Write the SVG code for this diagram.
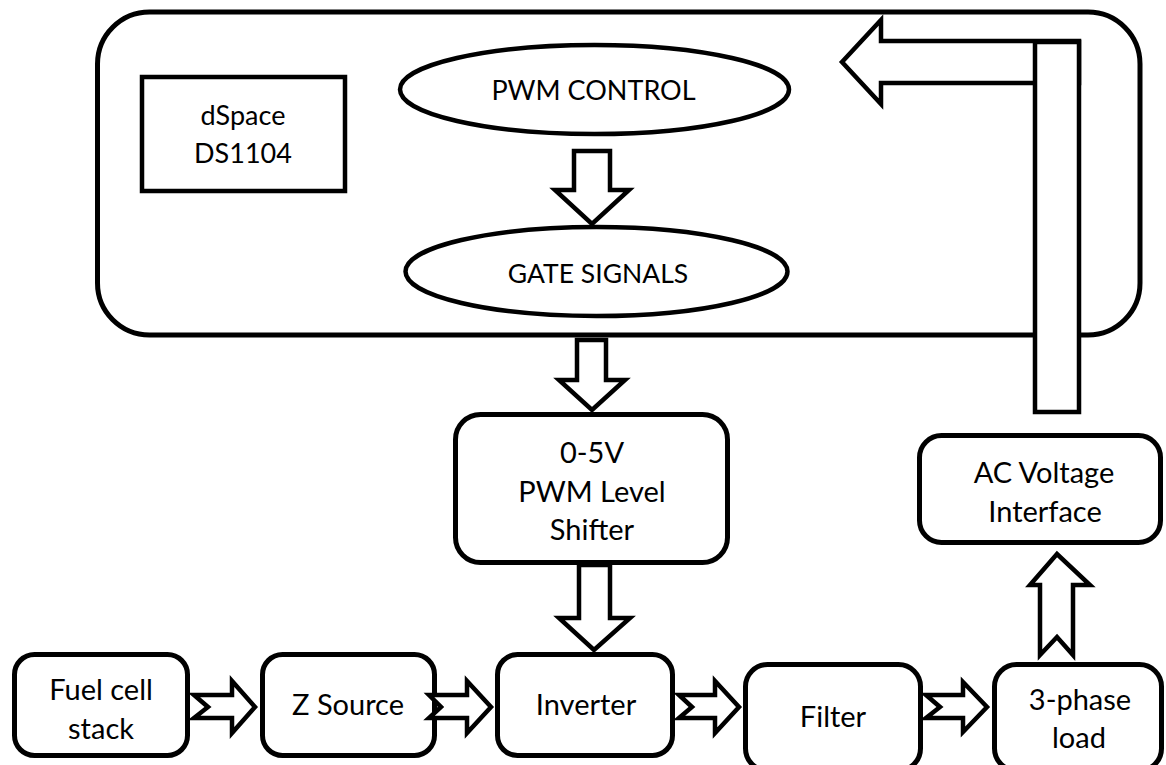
<svg xmlns="http://www.w3.org/2000/svg" width="1166" height="765" viewBox="0 0 1166 765">
<style>
.box{fill:#fff;stroke:#000;stroke-width:5}
.ell{fill:#fff;stroke:#000;stroke-width:4.5}
.arr{fill:#fff;stroke:#000;stroke-width:4.5;stroke-linejoin:miter}
text{font-family:Lato,"Liberation Sans",sans-serif;font-size:29px;fill:#000;text-anchor:middle}
.caps{font-size:27px}
</style>
<rect width="1166" height="765" fill="#fff"/>
<g id="dspace-frame">
<rect class="box" x="97.5" y="12" width="1042.5" height="323" rx="52" ry="52"/>
</g>
<g id="dspace">
<rect class="box" x="142" y="77" width="203" height="114" style="stroke-width:4.5"/>
<text x="243" y="125" class="caps">dSpace</text>
<text x="243" y="163" class="caps">DS1104</text>
</g>
<g id="pwm-control">
<ellipse class="ell" cx="594.5" cy="89.5" rx="194.5" ry="44.5"/>
<text x="593.5" y="100" class="caps">PWM CONTROL</text>
</g>
<g id="gate-signals">
<ellipse class="ell" cx="596.5" cy="271.5" rx="191" ry="44.5"/>
<text x="598" y="283" style="font-size:26.5px">GATE SIGNALS</text>
</g>
<g id="level-shifter">
<rect class="box" x="455.5" y="414.5" width="272" height="148" rx="25" ry="25"/>
<text x="592" y="463">0-5V</text>
<text x="592" y="502">PWM Level</text>
<text x="592" y="540">Shifter</text>
</g>
<g id="ac-interface">
<rect class="box" x="919.5" y="435.5" width="241" height="107" rx="22" ry="22"/>
<text x="1044" y="483">AC Voltage</text>
<text x="1045" y="522">Interface</text>
</g>
<g id="fuel-cell">
<rect class="box" x="14.5" y="654.5" width="173" height="101" rx="20" ry="20"/>
<text x="101" y="700">Fuel cell</text>
<text x="101" y="739">stack</text>
</g>
<g id="z-source">
<rect class="box" x="262.5" y="654.5" width="172" height="101" rx="20" ry="20"/>
<text x="348" y="715">Z Source</text>
</g>
<g id="inverter">
<rect class="box" x="497.5" y="654.5" width="175" height="101" rx="20" ry="20"/>
<text x="586" y="715">Inverter</text>
</g>
<g id="filter">
<rect class="box" x="745.5" y="664.5" width="175" height="106" rx="22" ry="22"/>
<text x="833" y="727">Filter</text>
</g>
<g id="three-phase-load">
<rect class="box" x="994.5" y="664.5" width="167" height="106" rx="22" ry="22"/>
<text x="1080" y="710">3-phase</text>
<text x="1079" y="748">load</text>
</g>
<g id="connectors">
<polygon class="arr" points="574,151 610,151 610,190 629,190 592,224 555,190 574,190"/>
<polygon class="arr" points="577,340 606,340 606,380 625,380 592,410 559,380 577,380"/>
<polygon class="arr" points="579,565 610,565 610,618 630,618 594,650 559,618 579,618"/>
<polygon class="arr" points="1040,655 1057,637 1073,655 1073,585 1090,585 1057,554 1030,585 1040,585"/>
<polygon class="arr" points="194,695 232,695 232,681 255,707 232,733 232,718 194,718 208,707"/>
<polygon class="arr" points="429,695 467,695 467,681 491,707 467,733 467,718 429,718 441,707"/>
<polygon class="arr" points="679,695 715,695 715,681 739,707 715,733 715,718 679,718 692,707"/>
<polygon class="arr" points="926,695 963,695 963,682 987,707 963,732 963,718 926,718 940,707"/>
<polygon class="arr" points="842,62 881,20 881,41 1079,41 1079,83 881,83 881,104"/>
<rect class="arr" x="1035" y="42" width="44" height="370"/>
</g>
</svg>
